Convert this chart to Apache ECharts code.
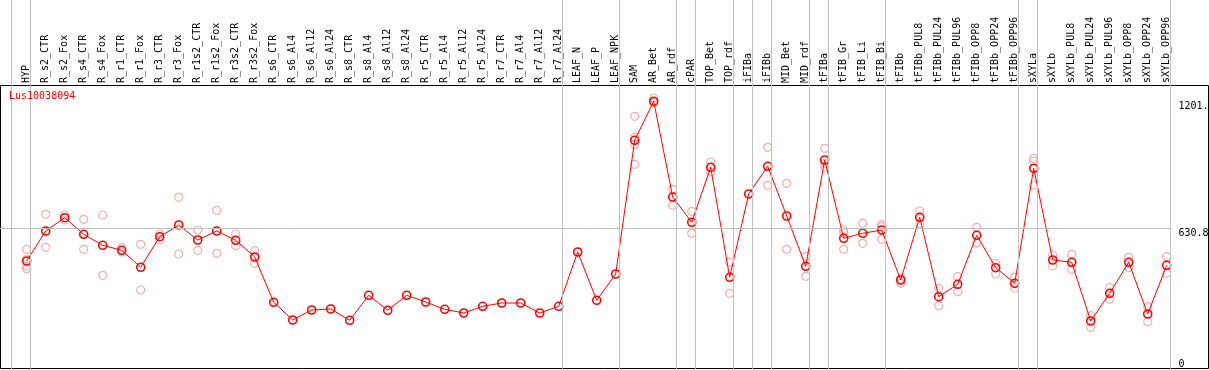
<!DOCTYPE html>
<html>
<head>
<meta charset="utf-8">
<script src="https://cdn.jsdelivr.net/npm/echarts@6/dist/echarts.min.js"></script>
<style>html,body{margin:0;padding:0;background:#fff;}#c{width:1209px;height:370px;}</style>
</head>
<body>
<div id="c"></div>
<script>
const geneName = 'Lus10038094';
const categories = ['HYP','R_s2_CTR','R_s2_Fox','R_s4_CTR','R_s4_Fox','R_r1_CTR','R_r1_Fox','R_r3_CTR','R_r3_Fox','R_r1s2_CTR','R_r1s2_Fox','R_r3s2_CTR','R_r3s2_Fox','R_s6_CTR','R_s6_Al4','R_s6_Al12','R_s6_Al24','R_s8_CTR','R_s8_Al4','R_s8_Al12','R_s8_Al24','R_r5_CTR','R_r5_Al4','R_r5_Al12','R_r5_Al24','R_r7_CTR','R_r7_Al4','R_r7_Al12','R_r7_Al24','LEAF_N','LEAF_P','LEAF_NPK','SAM','AR_Bet','AR_rdf','cPAR','TOP_Bet','TOP_rdf','iFIBa','iFIBb','MID_Bet','MID_rdf','tFIBa','tFIB_Gr','tFIB_Li','tFIB_Bi','tFIBb','tFIBb_PUL8','tFIBb_PUL24','tFIBb_PUL96','tFIBb_OPP8','tFIBb_OPP24','tFIBb_OPP96','sXYLa','sXYLb','sXYLb_PUL8','sXYLb_PUL24','sXYLb_PUL96','sXYLb_OPP8','sXYLb_OPP24','sXYLb_OPP96'];
const meanValues = [484.3,618.8,678.5,604.0,554.7,532.3,456.1,593.3,645.7,578.5,618.8,577.1,502.2,299.1,219.7,264.6,269.1,218.4,330.5,263.2,330.5,300.4,267.7,251.1,281.2,296.0,296.0,251.1,281.2,524.7,308.1,426.0,1025.6,1201.0,771.3,657.8,904.5,411.2,784.8,909.0,686.1,460.5,937.2,586.1,608.5,623.3,399.1,680.3,324.2,379.8,599.6,454.3,384.3,900.0,488.8,478.5,215.2,339.5,478.5,246.6,465.0];
const replicateValues = [
  [536.8,493.3,462.0,449.8],[693.7,545.7],[690.6,668.2],[671.3,536.8],[690.6,420.2],[544.0,524.7],[559.2,354.3],[605.4,578.5],[770.0,515.7],[623.3,532.3],[711.7,518.8],[605.4,552.9],[530.5,474.0],
  [],[],[],[],[],[],[],[],[],[],[],[],[],[],[],[],[],[],[],
  [1133.2,1039.0,1005.8,917.9],[1215.2,1194.2],[805.8,734.1],[707.2,608.5],[928.3,883.4],[478.5,339.5],[],[994.2,823.8],[832.7,536.8],[505.4,415.7],
  [989.7,922.4,904.5],[623.3,611.2,536.8],[653.4,563.7],[647.1,638.1,581.6],[406.7,384.3],[708.5,650.2],[361.9,283.9],[413.9,346.6],[635.4,566.4],[474.0,426.0],[411.2,363.2],
  [944.8,932.7,825.1],[511.2,461.9],[514.3,447.1],[239.0,187.0],[364.6,312.6],[500.9,454.3],[279.4,212.1],[503.6,429.1]
];
const yTickValues = [0, 630.8, 1201];
const yTickLabels = ['0', '630.8', '1201.'];
const groupEnds = [-1, 0, 28, 31, 34, 35, 37, 38, 39, 41, 42, 45, 52, 53, 60];

const FONT = 'DejaVu Sans Mono';
const PX_PER_CAT = 19;
const FIRST_X = 26.7;
const PX_PER_UNIT = 0.223;
const BOTTOM_Y = 369;
const W = 1209;

const repData = [];
replicateValues.forEach((arr, i) => arr.forEach(v => repData.push([i, v])));

const sepMin = -FIRST_X / PX_PER_CAT;
const sepMax = sepMin + W / PX_PER_CAT;

const yMarks = yTickValues.map((v, k) => ([
  {coord: [sepMin, v], lineStyle: k === 1 ? {color: '#c0c0c0', width: 1} : {color: 'rgba(0,0,0,0)', width: 0}},
  {coord: [groupEnds[groupEnds.length-1] + 0.2, v],
   label: {show: true, position: 'end', distance: 8, formatter: yTickLabels[k], fontFamily: FONT, fontSize: 10, lineHeight: 10, color: '#000',
           verticalAlign: k === 0 ? 'bottom' : 'top'}}
]));

const chart = echarts.init(document.getElementById('c'), null, {renderer: 'canvas'});
chart.setOption({
  animation: false,
  backgroundColor: '#fff',
  title: {text: geneName, left: 9, top: 91, padding: 0, textStyle: {color: '#ff0000', fontFamily: FONT, fontSize: 10, fontWeight: 'normal'}},
  grid: [
    {left: 17.2, top: 85, width: categories.length * PX_PER_CAT, height: 284},
    {left: 0, top: 0, width: W, height: BOTTOM_Y},
    {left: 0.5, top: 85.5, width: 1208, height: 283, show: true, borderColor: '#000', borderWidth: 1, backgroundColor: 'transparent'}
  ],
  xAxis: [
    {gridIndex: 0, type: 'category', position: 'top', data: categories, boundaryGap: true,
     axisLine: {show: false}, axisTick: {show: false}, splitLine: {show: false},
     axisLabel: {interval: 0, rotate: 90, margin: 2, fontFamily: FONT, fontSize: 10, color: '#000'}},
    {gridIndex: 1, type: 'value', min: sepMin, max: sepMax, show: false},
    {gridIndex: 2, type: 'value', min: 0, max: 1, show: false}
  ],
  yAxis: [
    {gridIndex: 0, type: 'value', min: 0, max: 284 / PX_PER_UNIT, show: false},
    {gridIndex: 1, type: 'value', min: 0, max: BOTTOM_Y / PX_PER_UNIT, show: false},
    {gridIndex: 2, type: 'value', min: 0, max: 1, show: false}
  ],
  series: [
    {type: 'line', xAxisIndex: 1, yAxisIndex: 1, data: [], silent: true, z: 1,
     markLine: {silent: true, symbol: ['none','none'], animation: false,
       lineStyle: {color: '#c0c0c0', width: 1, type: 'solid'},
       label: {show: false},
       emphasis: {disabled: true},
       data: groupEnds.map(g => ({xAxis: g + 0.2})).concat(yMarks)}},
    {type: 'scatter', xAxisIndex: 0, yAxisIndex: 0, data: repData, symbol: 'circle', symbolSize: 8, z: 2,
     itemStyle: {color: 'rgba(0,0,0,0)', borderColor: '#f09a9a', borderWidth: 1.2}, silent: true},
    {type: 'line', xAxisIndex: 0, yAxisIndex: 0, data: meanValues, symbol: 'circle', symbolSize: 8, showAllSymbol: true, z: 3,
     lineStyle: {color: '#ff0000', width: 1},
     itemStyle: {color: 'rgba(0,0,0,0)', borderColor: '#ff0000', borderWidth: 1.6}, silent: true}
  ]
});
</script>
</body>
</html>
